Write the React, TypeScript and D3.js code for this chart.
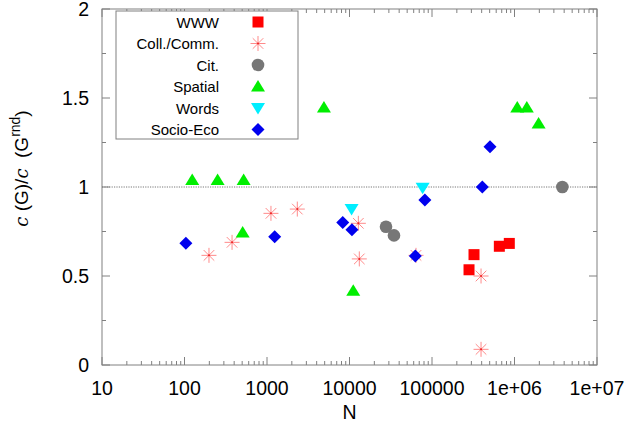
import React from "react";
import * as d3 from "d3";

const W = 630, H = 427;
const M = { left: 102, right: 597, top: 9, bottom: 365 };

const xTickValues = [10, 100, 1000, 10000, 100000, 1e6, 1e7];
const xTickLabels = ["10", "100", "1000", "10000", "100000", "1e+06", "1e+07"];
const yTickValues = [0, 0.5, 1, 1.5, 2];
const yTickLabels = ["0", "0.5", "1", "1.5", "2"];

const wwwN = [281000, 323000, 655000, 865000];
const wwwC = [0.535, 0.62, 0.667, 0.683];

const collN = [198, 377, 1117, 2330, 12800, 13150, 64000, 393000, 393000];
const collC = [0.616, 0.689, 0.852, 0.876, 0.796, 0.596, 0.616, 0.5, 0.088];

const citN = [27700, 34600, 3800000];
const citC = [0.777, 0.728, 1.0];

const spatialN = [124, 252, 521, 507, 11100, 4900, 1080000, 1410000, 1960000];
const spatialC = [1.04, 1.04, 1.04, 0.745, 0.417, 1.447, 1.447, 1.447, 1.357];

const wordsN = [10600, 77000];
const wordsC = [0.876, 0.996];

const socioN = [104, 1240, 8280, 10700, 62800, 82000, 407000, 505000];
const socioC = [0.684, 0.721, 0.8, 0.76, 0.612, 0.927, 1.0, 1.226];

const legendLabels = ["WWW", "Coll./Comm.", "Cit.", "Spatial", "Words", "Socio-Eco"];

const FONT = "'Liberation Sans', Arial, Helvetica, sans-serif";

type Kind = "square" | "star" | "circle" | "up" | "down" | "diamond";

function Marker({ kind, x, y }: { kind: Kind; x: number; y: number }) {
  switch (kind) {
    case "square":
      return <rect x={x - 5.5} y={y - 5.5} width={11} height={11} fill="#ff0000" />;
    case "circle":
      return <circle cx={x} cy={y} r={6.3} fill="#777777" />;
    case "up":
      return <path d={`M${x},${y - 6.5}L${x + 7},${y + 5}L${x - 7},${y + 5}Z`} fill="#00ee00" />;
    case "down":
      return <path d={`M${x},${y + 6.5}L${x + 7},${y - 5}L${x - 7},${y - 5}Z`} fill="#00eeff" />;
    case "diamond":
      return <path d={`M${x},${y - 6.5}L${x + 6.5},${y}L${x},${y + 6.5}L${x - 6.5},${y}Z`} fill="#0000ee" />;
    case "star": {
      const r = 7.5;
      const lines = [];
      for (let i = 0; i < 4; i++) {
        const a = (i * Math.PI) / 4;
        const dx = r * Math.cos(a), dy = r * Math.sin(a);
        lines.push(
          <line key={i} x1={x - dx} y1={y - dy} x2={x + dx} y2={y + dy} stroke="#ff8a8a" strokeWidth={1} />
        );
      }
      return (
        <g>
          {lines}
          <circle cx={x} cy={y} r={1} fill="#ee2222" />
        </g>
      );
    }
  }
}

export default function App() {
  const x = d3.scaleLog().domain([10, 1e7]).range([M.left, M.right]);
  const y = d3.scaleLinear().domain([0, 2]).range([M.bottom, M.top]);

  const minorX: number[] = [];
  for (let e = 1; e < 7; e++) {
    for (let k = 2; k <= 9; k++) minorX.push(k * Math.pow(10, e));
  }
  const minorY = [0.25, 0.75, 1.25, 1.75];

  const series: { kind: Kind; n: number[]; c: number[] }[] = [
    { kind: "star", n: collN, c: collC },
    { kind: "circle", n: citN, c: citC },
    { kind: "up", n: spatialN, c: spatialC },
    { kind: "down", n: wordsN, c: wordsC },
    { kind: "diamond", n: socioN, c: socioC },
    { kind: "square", n: wwwN, c: wwwC },
  ];
  const legendKinds: Kind[] = ["square", "star", "circle", "up", "down", "diamond"];

  const axisColor = "#808080";
  const legX = 116, legY = 11, legW = 182, legH = 128;

  return (
    <svg width={W} height={H} style={{ position: "absolute", left: 0, top: 0, background: "#fff" }}>
      {/* frame */}
      <rect x={M.left} y={M.top} width={M.right - M.left} height={M.bottom - M.top} fill="none" stroke={axisColor} strokeWidth={1} />
      {/* dotted line at 1 */}
      <line x1={M.left} x2={M.right} y1={y(1)} y2={y(1)} stroke="#555" strokeWidth={0.8} strokeDasharray="1.2,1.2" />
      {/* x ticks */}
      {xTickValues.map((v, i) => (
        <g key={"xt" + i}>
          <line x1={x(v)} x2={x(v)} y1={M.bottom} y2={M.bottom - 8} stroke={axisColor} />
          <line x1={x(v)} x2={x(v)} y1={M.top} y2={M.top + 8} stroke={axisColor} />
          <text x={x(v)} y={395} textAnchor="middle" fontFamily={FONT} fontSize={19.5} fill="#000">
            {xTickLabels[i]}
          </text>
        </g>
      ))}
      {minorX.map((v, i) => (
        <g key={"xm" + i}>
          <line x1={x(v)} x2={x(v)} y1={M.bottom} y2={M.bottom - 4} stroke={axisColor} />
          <line x1={x(v)} x2={x(v)} y1={M.top} y2={M.top + 4} stroke={axisColor} />
        </g>
      ))}
      {/* y ticks */}
      {yTickValues.map((v, i) => (
        <g key={"yt" + i}>
          <line x1={M.left} x2={M.left + 8} y1={y(v)} y2={y(v)} stroke={axisColor} />
          <line x1={M.right} x2={M.right - 8} y1={y(v)} y2={y(v)} stroke={axisColor} />
          <text x={89} y={y(v) + 7} textAnchor="end" fontFamily={FONT} fontSize={19.5} fill="#000">
            {yTickLabels[i]}
          </text>
        </g>
      ))}
      {minorY.map((v, i) => (
        <g key={"ym" + i}>
          <line x1={M.left} x2={M.left + 4} y1={y(v)} y2={y(v)} stroke={axisColor} />
          <line x1={M.right} x2={M.right - 4} y1={y(v)} y2={y(v)} stroke={axisColor} />
        </g>
      ))}
      {/* axis labels */}
      <text x={(M.left + M.right) / 2} y={419} textAnchor="middle" fontFamily={FONT} fontSize={19.5} fill="#000">
        N
      </text>
      <text
        transform={`translate(28,168.5) rotate(-90)`}
        textAnchor="middle"
        fontFamily={FONT}
        fontSize={19}
        fill="#000"
      >
        <tspan fontFamily="'DejaVu Serif', serif" fontStyle="italic" fontSize={18}>c</tspan>
        <tspan> (G)/</tspan>
        <tspan fontFamily="'DejaVu Serif', serif" fontStyle="italic" fontSize={18}>c</tspan>
        <tspan xmlSpace="preserve">  (G</tspan>
        <tspan fontSize={14} dy={-8}>rnd</tspan>
        <tspan dy={8}>)</tspan>
      </text>
      {/* data */}
      {series.map((s, si) =>
        s.n.map((n, i) => <Marker key={si + "-" + i} kind={s.kind} x={x(n)} y={y(s.c[i])} />)
      )}
      {/* legend */}
      <rect x={legX} y={legY} width={legW} height={legH} fill="#fff" stroke={axisColor} strokeWidth={1} />
      {legendLabels.map((l, i) => {
        const ly = 22 + i * 21.5;
        return (
          <g key={"lg" + i}>
            <text x={219} y={ly + 5.5} textAnchor="end" fontFamily={FONT} fontSize={15} fill="#000">
              {l}
            </text>
            <Marker kind={legendKinds[i]} x={258} y={ly} />
          </g>
        );
      })}
    </svg>
  );
}
